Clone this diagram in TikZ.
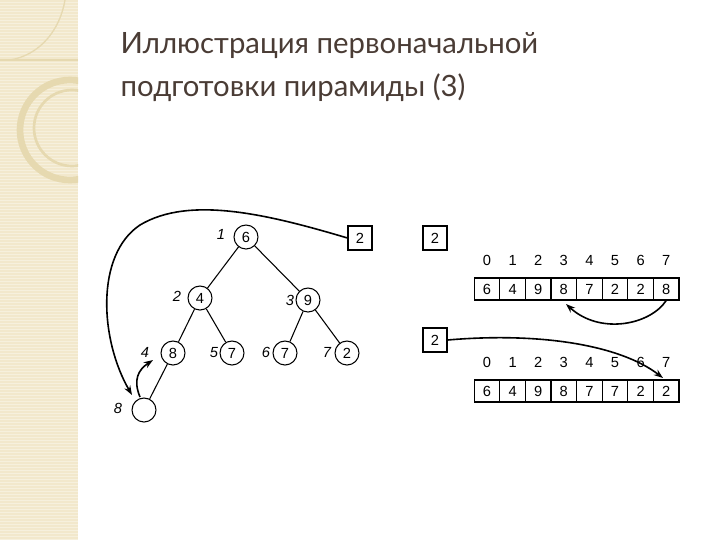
\documentclass[tikz,border=0pt]{standalone}
\usepackage{fontspec}
\setmainfont{Liberation Sans}
\newfontfamily\titlefont{Lato}
\usetikzlibrary{arrows.meta}
\definecolor{strip}{HTML}{F2E8CC}
\definecolor{deco}{HTML}{E6D9B0}
\definecolor{titlec}{HTML}{4A3C35}
\begin{document}
\begin{tikzpicture}[x=0.75pt,y=-0.75pt,
  tn/.style={circle,draw,line width=0.8pt,minimum size=18pt,inner sep=0pt,font=\fontsize{11}{13}\selectfont},
  bx/.style={draw,line width=0.8pt,minimum size=18pt,inner sep=0pt,font=\fontsize{11}{13}\selectfont},
  cell/.style={draw,line width=0.8pt,minimum width=19.2pt,minimum height=16.5pt,inner sep=0pt,font=\fontsize{11}{13}\selectfont},
  lab/.style={font=\fontsize{11}{13}\selectfont\itshape,text height=8pt,text depth=0pt},
  idx/.style={font=\fontsize{11}{13}\selectfont,text height=8pt,text depth=0pt},
  ttl/.style={anchor=west,text=titlec,font=\fontsize{22}{26}\selectfont\titlefont},
  ed/.style={line width=0.8pt},
  ar/.style={line width=1.2pt,-{Stealth[length=7pt,width=5pt]}}]
\useasboundingbox (0,0) rectangle (720,540);
\fill[white] (0,0) rectangle (720,540);
\fill[strip] (0,0) rectangle (78,540);
\foreach \y in {2,5,...,540} \draw[white,opacity=0.35,line width=0.4pt] (0,\y) -- (78,\y);
\draw[deco,line width=1pt] (78,60) -- (0,60);
\draw[deco,line width=1pt] (10,60) .. controls (40,55) and (60,30) .. (65,0);
\begin{scope}
\clip (0,0) rectangle (78,540);
\draw[deco,line width=5pt] (70,130) circle[radius=50];
\draw[deco,line width=2pt] (72,128) circle[radius=38];
\end{scope}
\node[ttl] (t1) at (116,46) {Иллюстрация первоначальной};
\node[ttl] (t2) at (116,88) {подготовки пирамиды (3)};
% tree
\node[tn] (n1) at (246,237) {6};
\node[tn] (n2) at (200,298) {4};
\node[tn] (n3) at (308,300) {9};
\node[tn] (n4) at (173,353) {8};
\node[tn] (n5) at (232,353) {7};
\node[tn] (n6) at (285,353) {7};
\node[tn] (n7) at (347,353) {2};
\node[tn] (n8) at (144,410) {};
\foreach \a/\b in {n1/n2,n1/n3,n2/n4,n2/n5,n3/n6,n3/n7,n4/n8} \draw[ed] (\a) -- (\b);
\node[lab] (l1) at (221,234) {1};
\node[lab] (l2) at (177,296) {2};
\node[lab] (l3) at (290,300) {3};
\node[lab] (l4) at (145,352) {4};
\node[lab] (l5) at (214,352) {5};
\node[lab] (l6) at (266,352) {6};
\node[lab] (l7) at (327,352) {7};
\node[lab] (l8) at (118,408) {8};
\node[bx] (b1) at (360,238) {2};
\draw[ar] (b1.west) .. controls (270,215) and (190,195) .. (140,225) .. controls (95,255) and (100,340) .. (132,395);
\coordinate (s1) at (140,397);
\draw[ar] (s1) .. controls (133,380) and (138,370) .. (153,360);
% arrays
\node[bx] (b2) at (435,238) {2};
\node[bx] (b3) at (435,340) {2};
\foreach \v [count=\i from 0] in {6,4,9,8,7,2,2,8} {
  \node[cell] (a\i) at (487+\i*25.6,289) {\v};
  \node[idx] (ia\i) at (487+\i*25.6,260) {\i};
}
\foreach \v [count=\i from 0] in {6,4,9,8,7,7,2,2} {
  \node[cell] (c\i) at (487+\i*25.6,391) {\v};
  \node[idx] (ic\i) at (487+\i*25.6,362) {\i};
}
\draw[ar] (a7.south) .. controls (650,325) and (600,335) .. (566,304);
\draw[ar] (b3.east) .. controls (540,332) and (620,345) .. (663,378);
\end{tikzpicture}
\end{document}
